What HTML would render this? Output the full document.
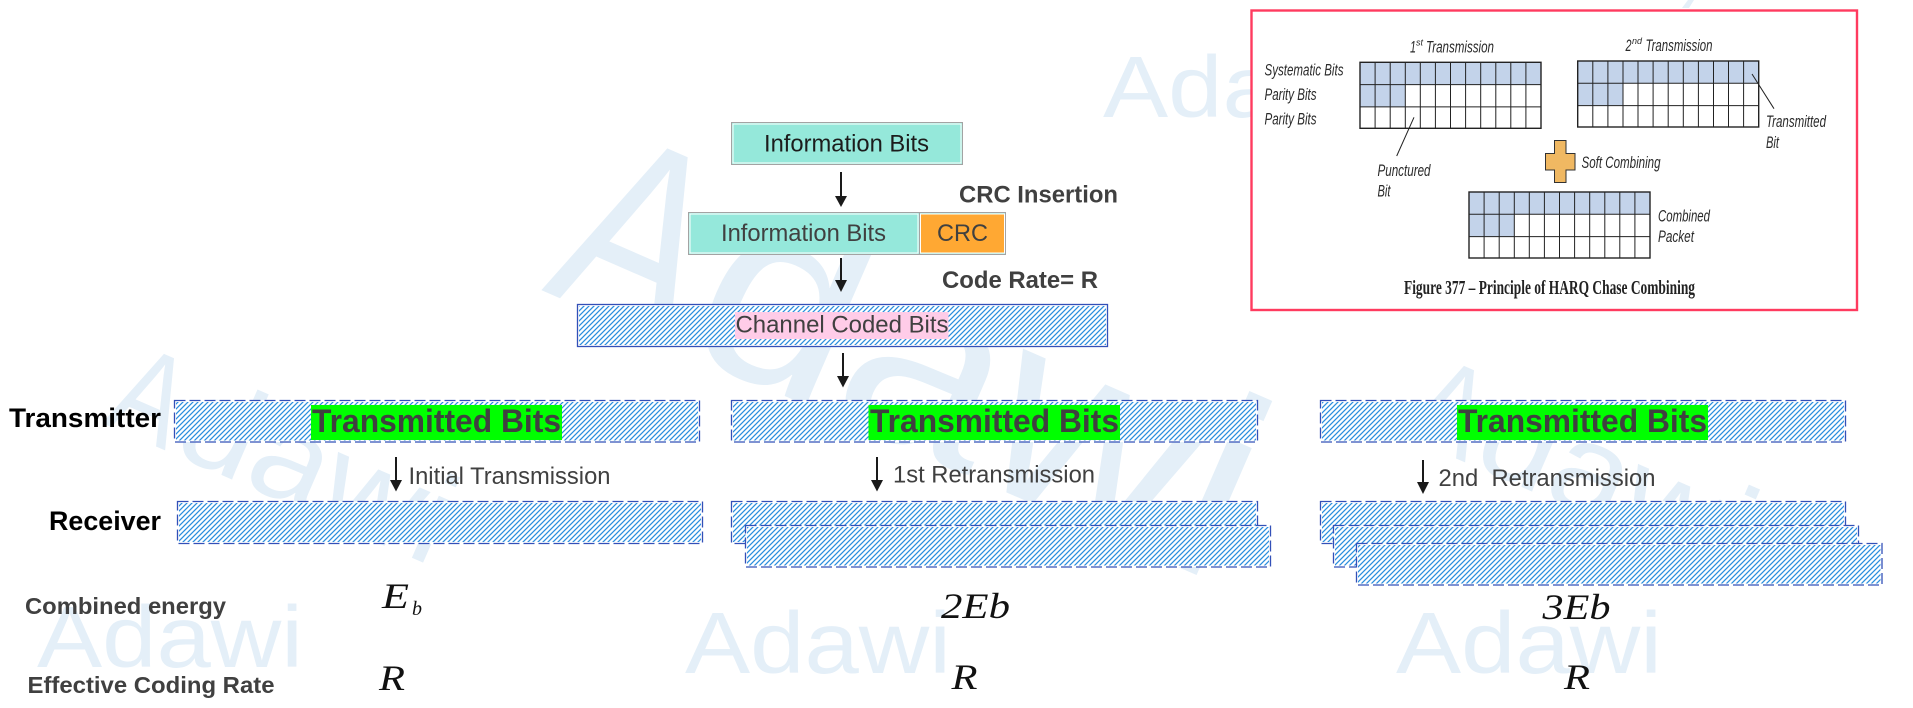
<!DOCTYPE html>
<html>
<head>
<meta charset="utf-8">
<style>
html,body{margin:0;padding:0;background:#fff;width:1913px;height:708px;overflow:hidden}
svg{display:block}
text{font-family:"Liberation Sans",sans-serif}
.s{font-family:"Liberation Serif",serif;font-style:italic;fill:#111}
.wm{fill:#e4eff8}
.b24{font-size:24px;fill:#404040}
.bd{font-weight:bold}
.tb{font-size:32px;font-weight:bold;fill:#404040}
.im{font-style:italic;font-size:17px;fill:#2a2a2a}
.f{fill:url(#h);stroke:none}
.d{fill:none;stroke:#3350b8;stroke-width:1.3;stroke-dasharray:11 4}
.w{fill:#fff;stroke:none}
</style>
</head>
<body>
<svg width="1913" height="708" viewBox="0 0 1913 708" xmlns="http://www.w3.org/2000/svg">
<defs>
<pattern id="h" width="5" height="5" patternUnits="userSpaceOnUse">
<rect width="5" height="5" fill="#fff"/>
<path d="M-1.25 1.25L1.25 -1.25M0 5L5 0M3.75 6.25L6.25 3.75" stroke="#2a8ede" stroke-width="1.25"/>
</pattern>
<filter id="soft" x="0" y="0" width="100%" height="100%"><feGaussianBlur stdDeviation="0.35"/></filter>
<g id="grid">
<rect x="0" y="0" width="181" height="22.3" fill="#c3d3ea"/>
<rect x="0" y="22.3" width="45.3" height="22.3" fill="#c3d3ea"/>
<path d="M15.1 0V66M30.2 0V66M45.3 0V66M60.3 0V66M75.4 0V66M90.5 0V66M105.6 0V66M120.7 0V66M135.8 0V66M150.8 0V66M165.9 0V66M0 22.3H181M0 44.6H181" stroke="#222" stroke-width="1" fill="none"/>
<rect x="0" y="0" width="181" height="66" fill="none" stroke="#222" stroke-width="1.4"/>
</g>
</defs>

<rect width="1913" height="708" fill="#fff"/>

<!-- watermarks -->
<g transform="translate(541 290) rotate(23.5)">
<text class="wm" font-size="262" x="0" y="0" textLength="140" lengthAdjust="spacingAndGlyphs">A</text>
<text class="wm" font-size="262" x="150" y="0" textLength="584" lengthAdjust="spacingAndGlyphs">dawi</text>
</g>
<g transform="translate(102 423) rotate(23.5)">
<text class="wm" font-size="128" x="0" y="0" textLength="69" lengthAdjust="spacingAndGlyphs">A</text>
<text class="wm" font-size="128" x="73.5" y="0" textLength="286" lengthAdjust="spacingAndGlyphs">dawi</text>
</g>
<g transform="translate(1402 435) rotate(23.5)">
<text class="wm" font-size="128" x="0" y="0" textLength="69" lengthAdjust="spacingAndGlyphs">A</text>
<text class="wm" font-size="128" x="73.5" y="0" textLength="286" lengthAdjust="spacingAndGlyphs">dawi</text>
</g>
<text class="wm" font-size="87" x="37" y="667" textLength="266" lengthAdjust="spacingAndGlyphs">Adawi</text>
<text class="wm" font-size="87" x="685" y="673" textLength="266" lengthAdjust="spacingAndGlyphs">Adawi</text>
<text class="wm" font-size="87" x="1396" y="673" textLength="266" lengthAdjust="spacingAndGlyphs">Adawi</text>
<text class="wm" font-size="87" x="1103" y="117" textLength="266" lengthAdjust="spacingAndGlyphs">Adawi</text>
<path d="M1682 8L1688 0H1694L1689 8Z" fill="#e4eff8"/>

<!-- top flow -->
<rect x="731.5" y="122.5" width="231" height="42" fill="#95e8da" stroke="#a3a3a3" stroke-width="1"/>
<rect x="733" y="124" width="228" height="39" fill="none" stroke="#fff" stroke-width="1"/>
<text class="b24" style="fill:#1c1c1c" x="764" y="151.5" textLength="165" lengthAdjust="spacingAndGlyphs">Information Bits</text>

<rect x="688.5" y="212.5" width="317" height="42" fill="#95e8da" fill-opacity="0.95" stroke="#a3a3a3" stroke-width="1"/>
<rect x="690" y="214" width="228" height="39" fill="#95e8da" fill-opacity="0.9" stroke="#fff" stroke-width="1"/>
<rect x="920.5" y="214" width="84" height="39" fill="#ffa833" stroke="#fff" stroke-width="1"/>
<path d="M919.5 213V254" stroke="#a3a3a3" stroke-width="1"/>
<text class="b24" x="721" y="241" textLength="165" lengthAdjust="spacingAndGlyphs">Information Bits</text>
<text class="b24" x="937" y="241" textLength="51" lengthAdjust="spacingAndGlyphs">CRC</text>

<text class="b24 bd" x="959" y="202.5" textLength="159" lengthAdjust="spacingAndGlyphs">CRC Insertion</text>
<text class="b24 bd" x="942" y="288" textLength="156" lengthAdjust="spacingAndGlyphs">Code Rate= R</text>

<rect class="w" x="577.5" y="304.5" width="530" height="42"/>
<rect class="f" x="579" y="306" width="527" height="39"/>
<rect x="577.5" y="304.5" width="530" height="42" fill="none" stroke="#3350b8" stroke-width="1.3"/>
<rect x="735" y="312" width="213.5" height="27" fill="#ffcce8"/>
<text class="b24" x="735.5" y="332.5" textLength="213" lengthAdjust="spacingAndGlyphs">Channel Coded Bits</text>

<!-- arrows -->
<g fill="#1a1a1a" stroke="none">
<rect x="840" y="172" width="2" height="26"/><path d="M835 196H847L841 207Z"/>
<rect x="840" y="258" width="2" height="24"/><path d="M835 280H847L841 292Z"/>
<rect x="842" y="353" width="2" height="24"/><path d="M837 376H849L843 387.5Z"/>
<rect x="395" y="457" width="2" height="24"/><path d="M390 480H402L396 491.5Z"/>
<rect x="876" y="457" width="2" height="24"/><path d="M871 480H883L877 491.5Z"/>
<rect x="1422" y="460" width="2" height="24"/><path d="M1417 482H1429L1423 494Z"/>
</g>

<!-- transmitter boxes -->
<rect class="w" x="174.5" y="400.5" width="525" height="41.5"/><rect class="f" x="176" y="402" width="522" height="38.5"/><rect class="d" x="174.5" y="400.5" width="525" height="41.5"/>
<rect class="w" x="731.5" y="400.5" width="526" height="41.5"/><rect class="f" x="733" y="402" width="523" height="38.5"/><rect class="d" x="731.5" y="400.5" width="526" height="41.5"/>
<rect class="w" x="1320.5" y="400.5" width="525" height="41.5"/><rect class="f" x="1322" y="402" width="522" height="38.5"/><rect class="d" x="1320.5" y="400.5" width="525" height="41.5"/>

<rect x="311" y="405" width="251" height="35" fill="#00ff00"/>
<rect x="868.5" y="405" width="251.5" height="35" fill="#00ff00"/>
<rect x="1457" y="405" width="251" height="35" fill="#00ff00"/>
<text class="tb" x="312" y="432" textLength="249" lengthAdjust="spacingAndGlyphs">Transmitted Bits</text>
<text class="tb" x="870" y="432" textLength="249" lengthAdjust="spacingAndGlyphs">Transmitted Bits</text>
<text class="tb" x="1458" y="432" textLength="249" lengthAdjust="spacingAndGlyphs">Transmitted Bits</text>

<text class="b24" x="408.5" y="484" textLength="202" lengthAdjust="spacingAndGlyphs">Initial Transmission</text>
<text class="b24" x="893" y="482.5" textLength="202" lengthAdjust="spacingAndGlyphs">1st Retransmission</text>
<text class="b24" xml:space="preserve" x="1438.5" y="486" textLength="217" lengthAdjust="spacingAndGlyphs">2nd  Retransmission</text>

<!-- receiver boxes -->
<rect class="w" x="177.5" y="501.5" width="525" height="42"/><rect class="f" x="179" y="503" width="522" height="39"/><rect class="d" x="177.5" y="501.5" width="525" height="42"/>

<rect class="w" x="731.5" y="501.5" width="526" height="42"/><rect class="f" x="733" y="503" width="523" height="39"/><rect class="d" x="731.5" y="501.5" width="526" height="42"/>
<rect class="w" x="745.5" y="525.5" width="525" height="41.5"/><rect class="f" x="747" y="527" width="522" height="38.5"/><rect class="d" x="745.5" y="525.5" width="525" height="41.5"/>

<rect class="w" x="1320.5" y="501.5" width="525" height="42"/><rect class="f" x="1322" y="503" width="522" height="39"/><rect class="d" x="1320.5" y="501.5" width="525" height="42"/>
<rect class="w" x="1333.5" y="525.5" width="525" height="41.5"/><rect class="f" x="1335" y="527" width="522" height="38.5"/><rect class="d" x="1333.5" y="525.5" width="525" height="41.5"/>
<rect class="w" x="1356.5" y="543.5" width="525.5" height="41.5"/><rect class="f" x="1358" y="545" width="522.5" height="38.5"/><rect class="d" x="1356.5" y="543.5" width="525.5" height="41.5"/>

<!-- left labels -->
<text class="bd" font-size="27" fill="#000" x="9" y="427" textLength="152" lengthAdjust="spacingAndGlyphs">Transmitter</text>
<text class="bd" font-size="27" fill="#000" x="49" y="530" textLength="112" lengthAdjust="spacingAndGlyphs">Receiver</text>
<text class="bd" font-size="23" fill="#404040" x="25" y="614" textLength="201" lengthAdjust="spacingAndGlyphs">Combined energy</text>
<text class="bd" font-size="23" fill="#404040" x="27.5" y="693" textLength="247" lengthAdjust="spacingAndGlyphs">Effective Coding Rate</text>

<!-- math -->
<text class="s" font-size="36" x="382" y="608" textLength="27" lengthAdjust="spacingAndGlyphs">E</text>
<text class="s" font-size="20" x="412" y="615">b</text>
<text class="s" font-size="36" x="941" y="618" textLength="69" lengthAdjust="spacingAndGlyphs">2Eb</text>
<text class="s" font-size="36" x="1542.5" y="619" textLength="68" lengthAdjust="spacingAndGlyphs">3Eb</text>
<text class="s" font-size="36" x="379" y="690" textLength="26" lengthAdjust="spacingAndGlyphs">R</text>
<text class="s" font-size="36" x="951.5" y="689" textLength="26" lengthAdjust="spacingAndGlyphs">R</text>
<text class="s" font-size="36" x="1564" y="689" textLength="26" lengthAdjust="spacingAndGlyphs">R</text>

<!-- picture -->
<rect x="1251.5" y="10.5" width="605.5" height="299.5" fill="#fff" stroke="#ff3b5f" stroke-width="2.4"/>
<g filter="url(#soft)">
<use href="#grid" x="1360" y="62.3"/>
<use href="#grid" x="1577.7" y="61"/>
<use href="#grid" x="1469" y="192"/>
<path d="M1414 117.3L1396.7 156M1752 74L1774 108.7" stroke="#222" stroke-width="1" fill="none"/>
<path d="M1554.5 140.5H1566V153.5H1575V170H1566V182.5H1554.5V170H1545.5V153.5H1554.5Z" fill="#f0b862" stroke="#333" stroke-width="1"/>
<text class="im" x="1264.5" y="75.5" textLength="79" lengthAdjust="spacingAndGlyphs">Systematic Bits</text>
<text class="im" x="1264.5" y="100" textLength="52" lengthAdjust="spacingAndGlyphs">Parity Bits</text>
<text class="im" x="1264.5" y="124.5" textLength="52" lengthAdjust="spacingAndGlyphs">Parity Bits</text>
<text class="im" x="1410" y="52.5" textLength="6" lengthAdjust="spacingAndGlyphs">1</text>
<text class="im" style="font-size:9px" x="1416" y="45.5">st</text>
<text class="im" x="1426" y="52.5" textLength="68" lengthAdjust="spacingAndGlyphs">Transmission</text>
<text class="im" x="1625.5" y="51" textLength="6" lengthAdjust="spacingAndGlyphs">2</text>
<text class="im" style="font-size:9px" x="1632" y="44">nd</text>
<text class="im" x="1645.5" y="51" textLength="67" lengthAdjust="spacingAndGlyphs">Transmission</text>
<text class="im" x="1377.5" y="176" textLength="53" lengthAdjust="spacingAndGlyphs">Punctured</text>
<text class="im" x="1377.5" y="196.5" textLength="13" lengthAdjust="spacingAndGlyphs">Bit</text>
<text class="im" x="1766" y="127" textLength="60" lengthAdjust="spacingAndGlyphs">Transmitted</text>
<text class="im" x="1766" y="148" textLength="13" lengthAdjust="spacingAndGlyphs">Bit</text>
<text class="im" x="1581.5" y="168" textLength="79" lengthAdjust="spacingAndGlyphs">Soft Combining</text>
<text class="im" x="1658" y="221.5" textLength="52" lengthAdjust="spacingAndGlyphs">Combined</text>
<text class="im" x="1658" y="242" textLength="36" lengthAdjust="spacingAndGlyphs">Packet</text>
<text x="1404" y="294" font-size="20" font-weight="bold" fill="#222" style="font-family:'Liberation Serif',serif" textLength="291" lengthAdjust="spacingAndGlyphs">Figure 377 – Principle of HARQ Chase Combining</text>
</g>
</svg>
</body>
</html>
